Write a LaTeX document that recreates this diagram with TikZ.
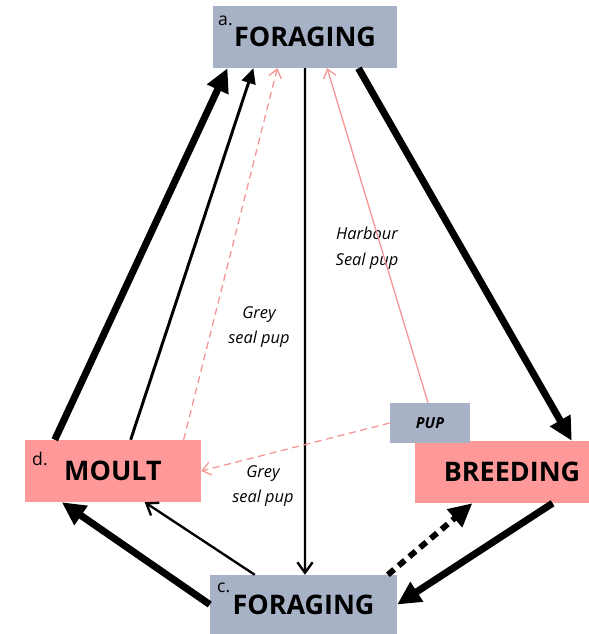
\documentclass[tikz,border=0pt]{standalone}
\usepackage{fontspec}
\setmainfont{Open Sans}
\usepackage{tikz}
\usetikzlibrary{arrows.meta, calc}
\definecolor{forblue}{RGB}{168,178,198}
\definecolor{moultpink}{RGB}{255,153,153}
\definecolor{pupline}{RGB}{245,150,150}

\begin{document}
\begin{tikzpicture}[
    x=0.03cm, y=-0.03cm,
    stage/.style={minimum height=1.86cm, inner sep=0pt, font=\fontsize{23}{26}\selectfont\bfseries},
    tag/.style={anchor=base west, inner sep=0pt, font=\fontsize{15}{17}\selectfont},
    note/.style={align=center, font=\fontsize{14}{22}\selectfont\itshape},
    heavyarr/.style={line width=6pt, -{Triangle[length=20pt,width=19pt]}},
    midarr/.style={line width=2.5pt, -{Triangle[length=13pt,width=12pt]}},
    slimarr/.style={line width=2pt, -{Straight Barb[length=9pt,width=13pt,line width=2pt]}},
    puparr/.style={line width=1.1pt, color=pupline, -{Straight Barb[length=7pt,width=11pt]}},
    dotarr/.style={line width=5pt, dash pattern=on 7pt off 5pt, -{Triangle[length=20pt,width=19pt]}},
]
\useasboundingbox (0,0) rectangle (589,634);

% stages
\node[stage, fill=forblue, minimum width=5.52cm] (fa) at (305,37) {FORAGING};
\node[stage, fill=moultpink, minimum width=5.28cm] (mo) at (113,471) {MOULT};
\node[stage, fill=moultpink, minimum width=5.22cm] (br) at (502,472) {\hspace*{0.6cm}BREEDING};
\node[stage, fill=forblue, minimum width=5.61cm, minimum height=1.77cm] (fc) at (303.5,604.5) {FORAGING};
\node[fill=forblue, minimum width=2.4cm, minimum height=1.2cm, inner sep=0pt,
      font=\fontsize{13}{15}\selectfont\bfseries\itshape] (pup) at (430,423) {PUP};

\node[tag] (ta) at (218,25) {a.};
\node[tag] (td) at (32,465) {d.};
\node[tag] (tc) at (217,592) {c.};

% labels
\node[note] (harb) at (367,248) {Harbour\\Seal pup};
\node[note] (grey1) at (259,327) {Grey\\seal pup};
\node[note] (grey2) at (263,486) {Grey\\seal pup};

% transitions
\draw[heavyarr] ($(mo.north west)!0.17!(mo.north east)$) -- ($(fa.south west)!0.08!(fa.south east)$);
\draw[midarr] ($(mo.north west)!0.6!(mo.north east)$) -- ($(fa.south west)!0.22!(fa.south east)$);
\draw[puparr, dash pattern=on 6pt off 4pt] ($(mo.north west)!0.9!(mo.north east)$) -- ($(fa.south west)!0.35!(fa.south east)$);
\draw[slimarr] ($(fa.south west)!0.5!(fa.south east)$) -- ($(fc.north west)!0.508!(fc.north east)$);
\draw[puparr] ($(pup.north west)!0.475!(pup.north east)$) -- ($(fa.south west)!0.62!(fa.south east)$);
\draw[heavyarr] ($(fa.south west)!0.79!(fa.south east)$) -- ($(br.north west)!0.9!(br.north east)$);
\draw[puparr, dash pattern=on 6pt off 4pt] (pup.west) -- (mo.east);
\draw[heavyarr] (fc.west) -- ($(mo.south west)!0.21!(mo.south east)$);
\draw[slimarr] ($(fc.north west)!0.24!(fc.north east)$) -- ($(mo.south west)!0.68!(mo.south east)$);
\draw[dotarr] ($(fc.north west)!0.95!(fc.north east)$) -- ($(br.south west)!0.33!(br.south east)$);
\draw[heavyarr] ($(br.south west)!0.79!(br.south east)$) -- (fc.east);
\end{tikzpicture}
\end{document}
